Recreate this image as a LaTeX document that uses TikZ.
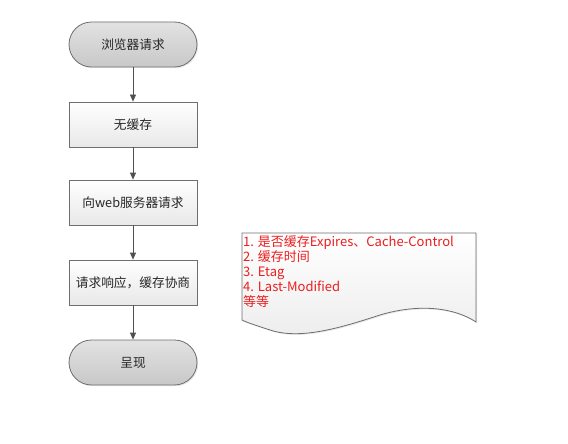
\documentclass[tikz,border=0pt]{standalone}
\usepackage{fontspec}
\setmainfont{Noto Sans CJK SC}
\usetikzlibrary{arrows.meta,shadows}
\definecolor{edge}{RGB}{110,110,110}
\definecolor{arrowc}{RGB}{80,80,80}
\definecolor{termtop}{RGB}{226,226,226}
\definecolor{termbot}{RGB}{200,200,200}
\definecolor{boxbot}{RGB}{232,232,232}
\definecolor{redtext}{RGB}{235,30,30}
\tikzset{
  base/.style={draw=edge, line width=0.8pt, minimum width=128pt, minimum height=45pt,
    font=\fontsize{12.7}{15}\selectfont, text=black!85,
    drop shadow={opacity=0.18, shadow xshift=1.2pt, shadow yshift=-1.2pt}},
  term/.style={base, rounded corners=22.5pt, top color=termtop, bottom color=termbot},
  proc/.style={base, top color=white, bottom color=boxbot},
  flow/.style={draw=arrowc, line width=0.8pt, -{Triangle[width=6pt,length=7pt]}},
  doc/.style={draw=edge, line width=0.8pt, top color=white, bottom color=boxbot!80,
    drop shadow={opacity=0.18, shadow xshift=1.2pt, shadow yshift=-1.2pt}},
  note/.style={text=redtext, font=\fontsize{13}{15.2}\selectfont, align=left, anchor=north west, inner sep=0pt}
}
\begin{document}
\begin{tikzpicture}[x=1pt,y=-1pt]
\useasboundingbox (0,0) rectangle (568,444);
\node[term] (start) at (133,44.5) {浏览器请求};
\node[proc] (nocache) at (133,124.5) {无缓存};
\node[proc] (web) at (133,202.5) {向web服务器请求};
\node[proc] (resp) at (133,282.5) {请求响应，缓存协商};
\node[term] (show) at (133,362.5) {呈现};
\draw[flow] (start) -- (nocache);
\draw[flow] (nocache) -- (web);
\draw[flow] (web) -- (resp);
\draw[flow] (resp) -- (show);
\path[doc] (242,233) -- (476,233) -- (476,322)
  .. controls (455,308) and (420,303) .. (380,315)
  .. controls (340,328) and (300,340) .. (270,330)
  .. controls (258,326) and (248,323) .. (242,320) -- cycle;
\node[note] (notes) at (243,235) {1. 是否缓存Expires、Cache-Control\\2. 缓存时间\\3. Etag\\4. Last-Modified\\等等};
\end{tikzpicture}
\end{document}
